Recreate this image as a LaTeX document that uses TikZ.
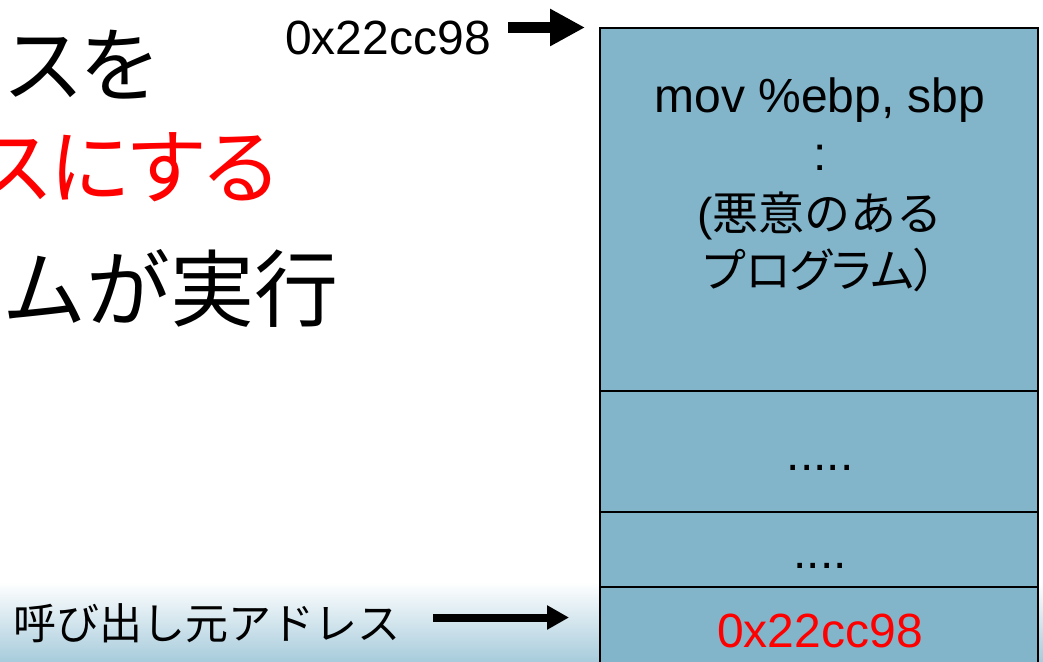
\documentclass[tikz,border=0pt]{standalone}
\usepackage{fontspec}
\setmainfont{Liberation Sans}
\newfontfamily\jp{Noto Sans CJK JP}
\newfontfamily\jpp{Noto Sans CJK JP}[RawFeature=+palt]
\usetikzlibrary{arrows.meta}
\definecolor{stackfill}{RGB}{130,180,202}
\definecolor{bandblue}{RGB}{168,204,220}
\definecolor{pred}{RGB}{255,0,0}
\begin{document}
\begin{tikzpicture}[x=1pt,y=-1pt,
  cell/.style={draw=black,line width=2pt,fill=stackfill,minimum width=438pt,anchor=north west,inner sep=0pt,outer sep=0pt},
  lbl/.style={inner sep=0pt,outer sep=0pt,anchor=base},
  mid/.style={lbl,font=\fontsize{48}{57}\selectfont},
  midjp/.style={lbl,font=\fontsize{46}{55}\selectfont},
  big/.style={inner sep=0pt,outer sep=0pt,font=\fontsize{82}{98}\selectfont},
  toparrow/.style={line width=11pt,-{Triangle[length=35pt,width=35pt]}},
  botarrow/.style={line width=8pt,-{Triangle[length=22pt,width=23pt]}}]
\useasboundingbox (0,0) rectangle (1043,661);
\clip (0,0) rectangle (1043,661);
\shade[top color=white,bottom color=bandblue] (0,582) rectangle (1043,661);
% stack
\node[cell,minimum height=363pt] (s1) at (600,28) {};
\node[cell,minimum height=121pt] (s2) at (600,391) {};
\node[cell,minimum height=75pt] (s3) at (600,512) {};
\node[cell,minimum height=90pt] (s4) at (600,587) {};
\node[mid] (m1) at (820,112) {mov \%ebp, sbp};
\node[mid] (m2) at (820,170) {:};
\node[midjp] (m3) at (820,230) {(\jp 悪意のある};
\node[midjp] (m4) at (820,287) {\jpp プログラム）};
\node[mid] (d5) at (820,470) {.....};
\node[mid] (d4) at (820,568) {....};
\node[mid,text=pred] (ret) at (820,647) {0x22cc98};
% top label and arrow
\node[mid] (addr) at (388,55) {0x22cc98};
\coordinate (ta) at (508,27.5);
\coordinate (tb) at (585,27.5);
\draw[toparrow] (ta) -- (tb);
% bottom label and arrow
\node[lbl,anchor=base west,font=\jp\fontsize{43}{52}\selectfont] (caller) at (13,639) {呼び出し元アドレス};
\coordinate (ba) at (433,617.5);
\coordinate (bb) at (569,617.5);
\draw[botarrow] (ba) -- (bb);
% big left text
\node[big,anchor=base west] (t1) at (7,95) {\jpp スを};
\node[big,anchor=base east,text=pred] (t2) at (278,197) {\jpp スにする};
\node[big,anchor=base west,font=\jp\fontsize{84}{100}\selectfont] (t3) at (2,320) {ムが実行};
\end{tikzpicture}
\end{document}
